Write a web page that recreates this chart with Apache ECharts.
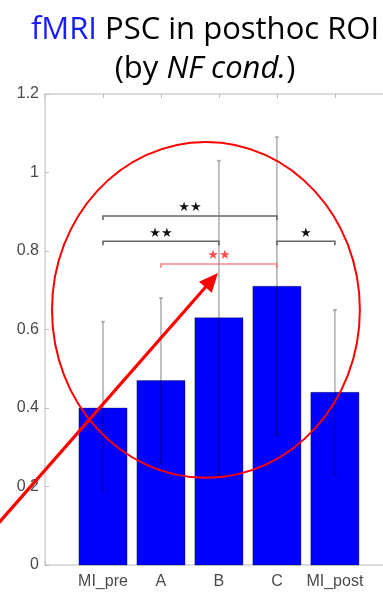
<!DOCTYPE html>
<html>
<head>
<meta charset="utf-8">
<script src="https://cdn.jsdelivr.net/npm/echarts@6/dist/echarts.min.js"></script>
<style>html,body{margin:0;padding:0;background:#fff;}#c{width:383px;height:593px;}</style>
</head>
<body>
<div id="c"></div>
<script>
// ---- data ----
const categories = ['MI_pre', 'A', 'B', 'C', 'MI_post'];
const pscMean = [0.40, 0.47, 0.63, 0.71, 0.44];
const errLow  = [0.19, 0.26, 0.23, 0.33, 0.23];
const errHigh = [0.62, 0.68, 1.03, 1.09, 0.65];
const yTicks = [0, 0.2, 0.4, 0.6, 0.8, 1, 1.2];
// significance brackets (category index 1-based)
const bracketFrom  = [1, 1, 4, 2];
const bracketTo    = [4, 3, 5, 4];
const bracketY     = [0.889, 0.825, 0.825, 0.767];
const bracketStars = ['**', '**', '*', '**'];
const highlightedBracket = 3;
// annotation (in data units)
const ellipseCenter = [2.776, 0.65];
const ellipseRadius = [2.655, 0.428];
const arrowFrom = [-0.9, 0.09];
const arrowTo = [2.983, 0.744];
// visible x range (plot is cropped at the right edge)
const xMin = 0, xMax = 5.83;

const chart = echarts.init(document.getElementById('c'), null, {renderer: 'canvas'});

const xs = categories.map((c, i) => i + 1);
const barData = xs.map((x, i) => [x, pscMean[i]]);
const errData = xs.map((x, i) => [x, errLow[i], errHigh[i]]);
const brData = bracketFrom.map((f, i) => [f, bracketTo[i], bracketY[i], i]);

const labelFont = 'Liberation Sans';
const titleFont = 'Open Sans';
const isInt = v => Math.abs(v - Math.round(v)) < 1e-6;
const option = {
  animation: false,
  title: [
    {text: '{b|fMRI} PSC in posthoc ROI', left: 200, top: 10, textAlign: 'center',
     textStyle: {fontFamily: titleFont, fontSize: 31, fontWeight: 'normal', color: '#000',
       rich: {b: {fontFamily: titleFont, fontSize: 31, color: '#1a1aff'}}}},
    {text: '(by {i|NF cond.})', left: 200, top: 49, textAlign: 'center',
     textStyle: {fontFamily: titleFont, fontSize: 31, fontWeight: 'normal', color: '#000',
       rich: {i: {fontFamily: titleFont, fontSize: 31, fontStyle: 'italic', color: '#000'}}}}
  ],
  grid: {left: 45, top: 94, right: 0, bottom: 28, containLabel: false},
  xAxis: [
    {type: 'value', min: xMin, max: xMax, interval: 1, position: 'bottom',
     splitLine: {show: false},
     axisLine: {show: true, lineStyle: {color: '#cfcfcf', width: 1.5}},
     axisTick: {show: true, inside: true, length: 4, lineStyle: {color: '#bbb'}},
     axisLabel: {margin: 9, color: '#4a4a4a', fontFamily: labelFont, fontSize: 16, showMaxLabel: false,
       formatter: v => (isInt(v) && v >= 1 && v <= categories.length) ? categories[Math.round(v) - 1] : ''}},
    {type: 'value', min: xMin, max: xMax, interval: 1, position: 'top',
     splitLine: {show: false},
     axisLine: {show: true, lineStyle: {color: '#cfcfcf', width: 1.5}},
     axisTick: {show: true, inside: true, length: 4, lineStyle: {color: '#bbb'}},
     axisLabel: {show: false}}
  ],
  yAxis: {type: 'value', min: 0, max: 1.2, interval: 0.2,
    splitLine: {show: false},
    axisLine: {show: true, lineStyle: {color: '#cfcfcf', width: 1.5}},
    axisTick: {show: true, inside: true, length: 4, lineStyle: {color: '#bbb'}},
    axisLabel: {margin: 6, color: '#4a4a4a', fontFamily: labelFont, fontSize: 16,
      formatter: v => { const t = yTicks.find(k => Math.abs(k - v) < 1e-6); return t === undefined ? '' : String(t); }}},
  series: [
    {type: 'custom', name: 'bars', data: barData, clip: false, z: 2,
     renderItem: (params, api) => {
       const x = api.value(0), y = api.value(1);
       const p0 = api.coord([x - 0.415, y]);
       const p1 = api.coord([x + 0.415, 0]);
       return {type: 'rect', shape: {x: p0[0], y: p0[1], width: p1[0] - p0[0], height: p1[1] - p0[1]},
         style: {fill: '#0000ff', stroke: 'rgba(0,0,0,0.3)', lineWidth: 1}};
     }},
    {type: 'custom', name: 'err', data: errData, clip: false, z: 3,
     renderItem: (params, api) => {
       const x = api.value(0);
       const lo = api.coord([x, api.value(1)]);
       const hi = api.coord([x, api.value(2)]);
       const st = {stroke: 'rgba(0,0,0,0.27)', lineWidth: 1.8};
       return {type: 'group', children: [
         {type: 'line', shape: {x1: lo[0], y1: lo[1], x2: hi[0], y2: hi[1]}, style: st},
         {type: 'line', shape: {x1: hi[0] - 2, y1: hi[1], x2: hi[0] + 2, y2: hi[1]}, style: st},
         {type: 'line', shape: {x1: lo[0] - 2, y1: lo[1], x2: lo[0] + 2, y2: lo[1]}, style: st}
       ]};
     }},
    {type: 'custom', name: 'brackets', data: brData, clip: false, z: 4,
     renderItem: (params, api) => {
       const idx = api.value(3);
       const a = api.coord([api.value(0), api.value(2)]);
       const b = api.coord([api.value(1), api.value(2)]);
       const hl = idx === highlightedBracket;
       const lineColor = hl ? 'rgba(255,60,60,0.6)' : '#666';
       const starColor = hl ? '#ff4d4d' : '#111';
       const stars = bracketStars[idx].replace(/\*/g, '★');
       return {type: 'group', children: [
         {type: 'polyline', shape: {points: [[a[0], a[1] + 4], [a[0], a[1]], [b[0], b[1]], [b[0], b[1] + 4]]},
          style: {stroke: lineColor, lineWidth: 1.6, fill: null}},
         {type: 'text', style: {x: (a[0] + b[0]) / 2, y: a[1] - 8, text: stars,
          textAlign: 'center', textVerticalAlign: 'middle', fill: starColor,
          font: '13px "DejaVu Sans"'}}
       ]};
     }},
    {type: 'custom', name: 'annotation', data: [[ellipseCenter[0], ellipseCenter[1]]], clip: false, z: 5,
     renderItem: (params, api) => {
       const c = api.coord(ellipseCenter);
       const r = api.coord([ellipseCenter[0] + ellipseRadius[0], ellipseCenter[1] + ellipseRadius[1]]);
       const s = api.coord(arrowFrom);
       const t = api.coord(arrowTo);
       const dx = t[0] - s[0], dy = t[1] - s[1];
       const len = Math.sqrt(dx * dx + dy * dy);
       const ux = dx / len, uy = dy / len;
       const hl = 19, hw = 8.5;
       const bx = t[0] - ux * hl, by = t[1] - uy * hl;
       return {type: 'group', children: [
         {type: 'ellipse', shape: {cx: c[0], cy: c[1], rx: r[0] - c[0], ry: c[1] - r[1]},
          style: {stroke: '#ff0000', lineWidth: 2, fill: null}},
         {type: 'line', shape: {x1: s[0], y1: s[1], x2: bx + ux * 2, y2: by + uy * 2},
          style: {stroke: '#ff0000', lineWidth: 3.2}},
         {type: 'polygon', shape: {points: [[t[0], t[1]], [bx - uy * hw, by + ux * hw], [bx + uy * hw, by - ux * hw]]},
          style: {fill: '#ff0000'}}
       ]};
     }}
  ]
};
chart.setOption(option);
</script>
</body>
</html>
